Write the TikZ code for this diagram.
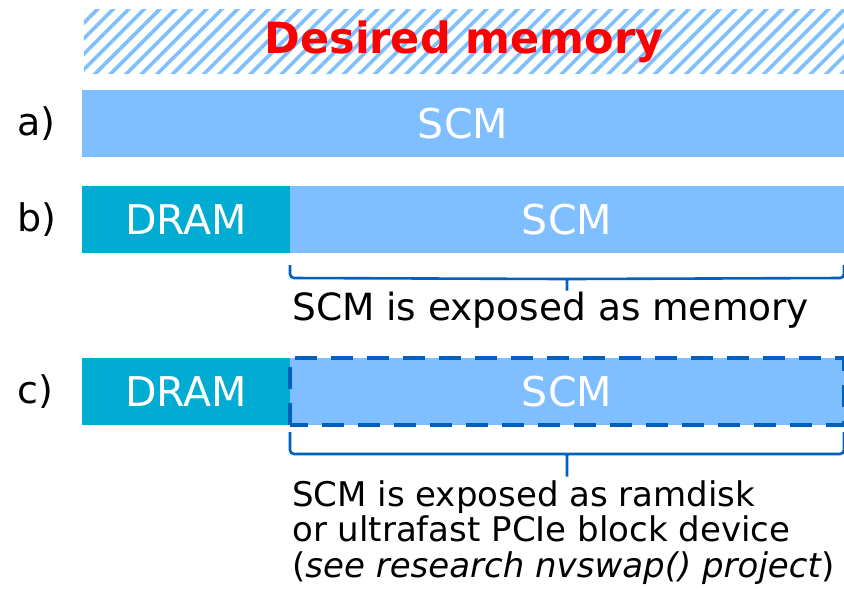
\documentclass[tikz,border=0pt]{standalone}
\usepackage{fontspec}
\setmainfont{DejaVu Sans}
\usetikzlibrary{positioning,patterns.meta}

\definecolor{scmblue}{RGB}{128,191,255}
\definecolor{dramteal}{RGB}{0,172,210}
\definecolor{darkblue}{RGB}{0,96,190}

\tikzset{
	bar/.style={anchor=north west, inner sep=0pt, outer sep=0pt, minimum height=67pt, text=white, font=\fontsize{41}{48}\selectfont},
	scmbar/.style={bar, fill=scmblue},
	drambar/.style={bar, fill=dramteal},
	rowlabel/.style={anchor=west, inner sep=0pt, font=\fontsize{38}{46}\selectfont},
	note/.style={anchor=north west, inner sep=0pt, align=left, font=\fontsize{34}{35.5}\selectfont},
	curly/.style={draw=darkblue, line width=2.6pt, rounded corners=4pt}
}

\begin{document}
\begin{tikzpicture}
	[
	x=1pt, y=-1pt
	%y nach unten wie im Bild
	]
	\useasboundingbox (0,0) rectangle (844,589);

	%gestreiftes Feld oben
	\node[anchor=north west, inner sep=0pt, minimum width=762pt, minimum height=64pt, pattern={Lines[angle=45, distance=11pt, line width=3.6pt]}, pattern color=scmblue] (desired) at (82,8) {};
	\node[text=red, font=\fontsize{43}{50}\selectfont\bfseries, inner sep=0pt] (desiredtext) at (464,42) {Desired memory};

	%Zeile a
	\node[scmbar, minimum width=762pt] (scmA) at (82,90) {SCM};
	\node[rowlabel] (labA) at (17,124) {a)};

	%Zeile b
	\node[drambar, minimum width=208pt] (dramB) at (82,186) {DRAM};
	\node[scmbar, minimum width=554pt, anchor=north west] (scmB) at (dramB.north east) {SCM};
	\node[rowlabel] (labB) at (17,220) {b)};

	%Klammer b
	\coordinate (braceBl) at ([yshift=-12pt]scmB.south west);
	\coordinate (braceBr) at ([yshift=-12pt]scmB.south east);
	\coordinate (braceBtip) at ([yshift=-40pt]scmB.south);
	\draw[curly] (braceBl) -- ++(0,13) -- ([xshift=-5pt, yshift=14pt]braceBtip)
		.. controls ([yshift=14pt]braceBtip) .. (braceBtip)
		.. controls ([yshift=14pt]braceBtip) .. ([xshift=5pt, yshift=14pt]braceBtip)
		-- ([yshift=-13pt]braceBr) -- (braceBr);
	\node[note, anchor=west, font=\fontsize{37.5}{40}\selectfont] (noteB) at (292,310) {SCM is exposed as memory};

	%Zeile c
	\node[drambar, minimum width=208pt] (dramC) at (82,358) {DRAM};
	\node[scmbar, minimum width=554pt, anchor=north west] (scmC) at (dramC.north east) {SCM};
	\draw[darkblue, line width=4.5pt, dash pattern=on 22pt off 14pt] (scmC.south west) rectangle (scmC.north east);
	\node[rowlabel] (labC) at (17,392) {c)};

	%Klammer c
	\coordinate (braceCl) at ([yshift=-7pt]scmC.south west);
	\coordinate (braceCr) at ([yshift=-7pt]scmC.south east);
	\coordinate (braceCtip) at ([yshift=-54pt]scmC.south);
	\draw[curly] (braceCl) -- ++(0,22) -- ([xshift=-5pt, yshift=25pt]braceCtip)
		.. controls ([yshift=25pt]braceCtip) .. (braceCtip)
		.. controls ([yshift=25pt]braceCtip) .. ([xshift=5pt, yshift=25pt]braceCtip)
		-- ([yshift=-22pt]braceCr) -- (braceCr);
	\node[note] (noteC) at (292,480) {SCM is exposed as ramdisk\\or ultrafast PCIe block device\\(\textit{see research nvswap() project})};
\end{tikzpicture}
\end{document}
